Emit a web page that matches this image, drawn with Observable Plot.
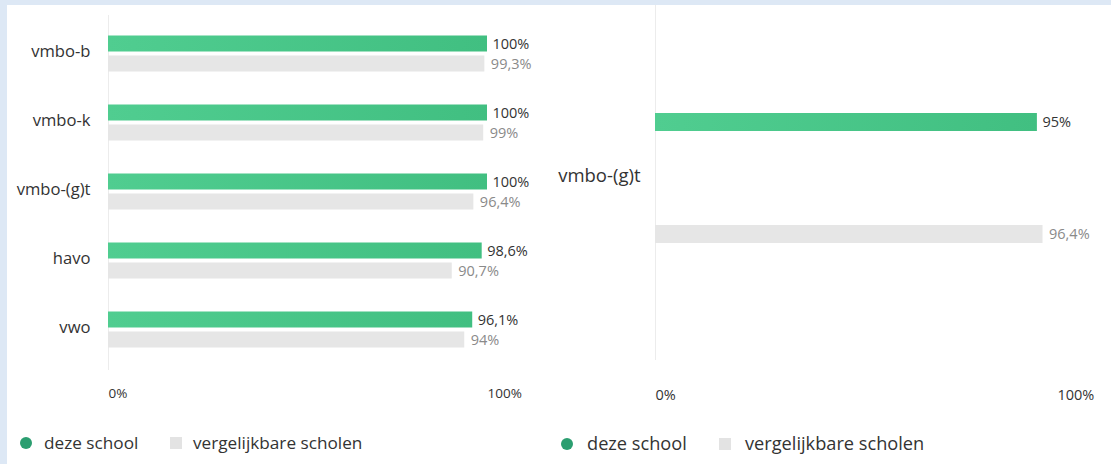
<!DOCTYPE html>
<html>
<head>
<meta charset="utf-8">
<script src="https://cdn.jsdelivr.net/npm/d3@7"></script>
<script src="https://cdn.jsdelivr.net/npm/@observablehq/plot@0.6"></script>
<style>
  html, body { margin:0; padding:0; width:1111px; height:464px; overflow:hidden; background:#dde8f5; font-family:"Open Sans", sans-serif; }
  #card { position:absolute; left:7px; top:5px; width:1104px; height:459px; background:#fff; }
  .chart { position:absolute; top:5px; }
  .chart svg { display:block; }
  .lg { position:absolute; color:#333; white-space:nowrap; line-height:1; }
  .dot { position:absolute; width:12px; height:12px; border-radius:50%; background:#2b9e70; }
  .sq { position:absolute; width:12px; height:12px; background:#e3e3e3; filter:blur(0.6px); }
</style>
</head>
<body>
<div id="card"></div>
<div id="left" class="chart" style="left:7px"></div>
<div id="right" class="chart" style="left:547px"></div>
<div class="dot" style="left:20px; top:437px"></div>
<div class="lg" style="left:44px; top:434px; font-size:17.2px">deze school</div>
<div class="sq" style="left:170px; top:437px"></div>
<div class="lg" style="left:193px; top:434px; font-size:17.2px">vergelijkbare scholen</div>
<div class="dot" style="left:561px; top:438px"></div>
<div class="lg" style="left:587px; top:434px; font-size:18.2px">deze school</div>
<div class="sq" style="left:719px; top:438px"></div>
<div class="lg" style="left:745px; top:434px; font-size:18.2px">vergelijkbare scholen</div>
<svg width="0" height="0" style="position:absolute">
  <defs>
    <linearGradient id="greenGrad" x1="0" x2="1" y1="0" y2="0">
      <stop offset="0" stop-color="#50cd90"/>
      <stop offset="1" stop-color="#41bf81"/>
    </linearGradient>
  </defs>
</svg>
<script>
const seriesNames = ["deze school", "vergelijkbare scholen"];
const categoriesLeft = ["vmbo-b", "vmbo-k", "vmbo-(g)t", "havo", "vwo"];
const dezeSchoolLeft = [100, 100, 100, 98.6, 96.1];
const vergelijkbaarLeft = [99.3, 99, 96.4, 90.7, 94];
const categoriesRight = ["vmbo-(g)t"];
const dezeSchoolRight = [95];
const vergelijkbaarRight = [96.4];
const xTicks = [0, 100];

const GREY = "#e6e6e6";
const fmt = v => String(v).replace(".", ",") + "%";

function rows(cats, a, b) {
  const out = [];
  cats.forEach((c, i) => {
    out.push({cat: c, series: seriesNames[0], value: a[i]});
    out.push({cat: c, series: seriesNames[1], value: b[i]});
  });
  return out;
}

function chart(o) {
  const data = rows(o.cats, o.a, o.b);
  return Plot.plot({
    width: o.width, height: 410,
    marginLeft: o.ml, marginRight: o.mr, marginTop: o.mt, marginBottom: o.mb,
    style: {fontFamily: '"Open Sans", sans-serif', background: "transparent", overflow: "visible"},
    x: {domain: [0, 100], axis: null},
    y: {domain: seriesNames, axis: null, paddingInner: o.pi, paddingOuter: o.po},
    fy: {domain: o.cats, padding: 0, axis: null},
    color: {domain: seriesNames, range: ["url(#greenGrad)", GREY]},
    marks: [
      Plot.ruleX([0], {stroke: "#ececec", strokeWidth: 1, insetTop: -o.extTop, insetBottom: -o.extBottom}),
      Plot.barX(data, {fy: "cat", y: "series", x: "value", fill: "series"}),
      Plot.text(data.filter(d => d.series === seriesNames[0]), {fy: "cat", y: "series", x: "value", text: d => fmt(d.value), dx: 5, textAnchor: "start", fill: "#333", fontSize: o.vfs}),
      Plot.text(data.filter(d => d.series === seriesNames[1]), {fy: "cat", y: "series", x: "value", text: d => fmt(d.value), dx: 6, textAnchor: "start", fill: "#8a8a8a", fontSize: o.vfs}),
      Plot.axisFy({anchor: "left", tickSize: 0, tickPadding: o.lp, fontSize: o.lfs, fill: "#333", label: null, dy: -2}),
      Plot.axisX(xTicks, {anchor: "bottom", tickSize: 0, tickPadding: o.tp, tickFormat: d => d + "%", textAnchor: "start", fontSize: o.tfs, fill: "#333", label: null})
    ]
  });
}

document.getElementById("left").append(chart({
  cats: categoriesLeft, a: dezeSchoolLeft, b: vergelijkbaarLeft,
  width: 540, ml: 101, mr: 60, mt: 13.5, mb: 50,
  pi: 0.19, po: 0.745, lp: 18, lfs: 16.6, vfs: 14.5, tfs: 13.5, tp: 24,
  extTop: 4, extBottom: 6
}));
document.getElementById("right").append(chart({
  cats: categoriesRight, a: dezeSchoolRight, b: vergelijkbaarRight,
  width: 564, ml: 108, mr: 54, mt: 5, mb: 69,
  pi: 0.835, po: 0.9175, lp: 15, lfs: 18.5, vfs: 14.5, tfs: 14.5, tp: 43,
  extTop: 5, extBottom: 14
}));
</script>
</body>
</html>
